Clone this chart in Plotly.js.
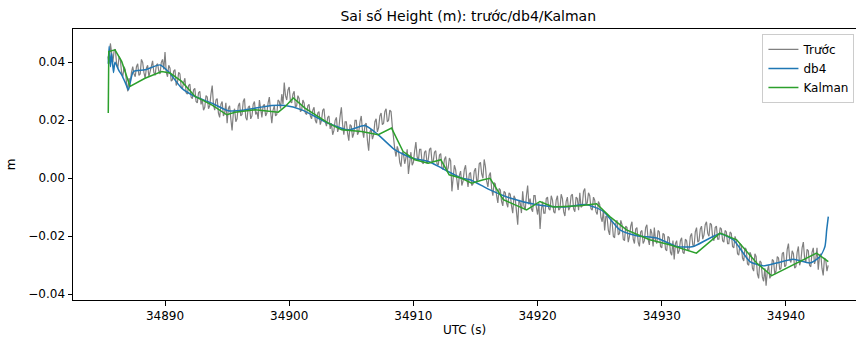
<!DOCTYPE html>
<html>
<head>
<meta charset="utf-8">
<script src="https://cdn.plot.ly/plotly-3.0.1.min.js"></script>
<style>html,body{margin:0;padding:0;background:#fff;}#chart{width:856px;height:339px;}</style>
</head>
<body>
<div id="chart"></div>
<script>
// ---- data ----
const grayStart = 34885.4;
const grayStep = 0.1;
const grayValues = [
  0.0420, 0.0395, 0.0465, 0.0425, 0.0400, 0.0440, 0.0445, 0.0395, 0.0380, 0.0420, 0.0410, 0.0365, 0.0350, 0.0385, 0.0375, 0.0330, 0.0300, 0.0345, 0.0330, 0.0365,
  0.0385, 0.0360, 0.0350, 0.0385, 0.0395, 0.0355, 0.0360, 0.0410, 0.0400, 0.0365, 0.0345, 0.0380, 0.0390, 0.0350, 0.0370, 0.0395, 0.0405, 0.0365, 0.0355, 0.0390,
  0.0395, 0.0370, 0.0360, 0.0400, 0.0410, 0.0375, 0.0435, 0.0365, 0.0350, 0.0390, 0.0380, 0.0335, 0.0340, 0.0370, 0.0375, 0.0320, 0.0330, 0.0365, 0.0360, 0.0315,
  0.0310, 0.0330, 0.0345, 0.0295, 0.0290, 0.0320, 0.0325, 0.0280, 0.0275, 0.0305, 0.0310, 0.0265, 0.0260, 0.0295, 0.0300, 0.0255, 0.0270, 0.0235, 0.0245, 0.0285,
  0.0280, 0.0240, 0.0250, 0.0290, 0.0320, 0.0255, 0.0235, 0.0270, 0.0275, 0.0225, 0.0210, 0.0255, 0.0265, 0.0215, 0.0225, 0.0260, 0.0190, 0.0240, 0.0250, 0.0205,
  0.0165, 0.0225, 0.0240, 0.0195, 0.0205, 0.0250, 0.0260, 0.0215, 0.0220, 0.0265, 0.0275, 0.0210, 0.0200, 0.0245, 0.0250, 0.0205, 0.0215, 0.0255, 0.0265, 0.0220,
  0.0230, 0.0205, 0.0270, 0.0240, 0.0210, 0.0250, 0.0255, 0.0215, 0.0225, 0.0260, 0.0280, 0.0230, 0.0190, 0.0235, 0.0250, 0.0215, 0.0220, 0.0270, 0.0265, 0.0240,
  0.0290, 0.0255, 0.0330, 0.0285, 0.0270, 0.0305, 0.0315, 0.0265, 0.0260, 0.0290, 0.0300, 0.0245, 0.0250, 0.0285, 0.0275, 0.0230, 0.0235, 0.0270, 0.0260, 0.0225,
  0.0220, 0.0250, 0.0255, 0.0215, 0.0205, 0.0235, 0.0245, 0.0200, 0.0190, 0.0225, 0.0230, 0.0185, 0.0200, 0.0235, 0.0240, 0.0195, 0.0180, 0.0210, 0.0215, 0.0170,
  0.0190, 0.0150, 0.0165, 0.0200, 0.0210, 0.0160, 0.0175, 0.0215, 0.0245, 0.0185, 0.0150, 0.0195, 0.0195, 0.0155, 0.0130, 0.0185, 0.0180, 0.0140, 0.0155, 0.0200,
  0.0200, 0.0150, 0.0160, 0.0195, 0.0215, 0.0165, 0.0140, 0.0185, 0.0190, 0.0130, 0.0095, 0.0160, 0.0170, 0.0135, 0.0150, 0.0195, 0.0205, 0.0160, 0.0175, 0.0215,
  0.0225, 0.0185, 0.0190, 0.0230, 0.0240, 0.0195, 0.0200, 0.0235, 0.0230, 0.0180, 0.0130, 0.0100, 0.0075, 0.0110, 0.0095, 0.0055, 0.0040, 0.0090, 0.0085, 0.0050,
  0.0070, 0.0100, 0.0015, 0.0060, 0.0090, 0.0045, 0.0055, 0.0095, 0.0125, 0.0075, 0.0060, 0.0100, 0.0100, 0.0055, 0.0050, 0.0090, 0.0095, 0.0050, 0.0065, 0.0100,
  0.0105, 0.0055, 0.0060, 0.0090, 0.0095, 0.0050, 0.0045, 0.0080, 0.0085, 0.0035, 0.0030, 0.0065, 0.0075, 0.0025, 0.0035, 0.0070, 0.0060, -0.0045, 0.0010, 0.0045,
  0.0030, -0.0010, -0.0040, 0.0010, 0.0025, -0.0025, -0.0010, 0.0030, 0.0045, 0.0000, -0.0030, 0.0015, 0.0020, -0.0025, -0.0020, 0.0025, 0.0035, -0.0010, -0.0005, 0.0050,
  0.0055, 0.0015, 0.0000, 0.0065, 0.0040, -0.0010, -0.0030, 0.0010, 0.0020, -0.0035, -0.0060, -0.0015, -0.0020, -0.0060, -0.0085, -0.0035, -0.0040, -0.0080, -0.0095, -0.0045,
  -0.0050, -0.0085, -0.0100, -0.0050, -0.0055, -0.0095, -0.0120, -0.0060, -0.0070, -0.0115, -0.0160, -0.0075, -0.0085, -0.0120, -0.0045, -0.0095, -0.0110, -0.0060, -0.0025, -0.0090,
  -0.0070, -0.0105, -0.0115, -0.0060, -0.0060, -0.0100, -0.0125, -0.0085, -0.0175, -0.0110, -0.0080, -0.0120, -0.0120, -0.0070, -0.0065, -0.0105, -0.0110, -0.0060, -0.0075, -0.0115,
  -0.0120, -0.0075, -0.0060, -0.0110, -0.0105, -0.0055, -0.0070, -0.0115, -0.0130, -0.0080, -0.0065, -0.0110, -0.0100, -0.0060, -0.0055, -0.0105, -0.0115, -0.0065, -0.0070, -0.0110,
  -0.0050, -0.0100, -0.0095, -0.0045, -0.0035, -0.0090, -0.0085, -0.0050, -0.0060, -0.0105, -0.0110, -0.0065, -0.0075, -0.0115, -0.0125, -0.0080, -0.0090, -0.0135, -0.0150, -0.0110,
  -0.0180, -0.0130, -0.0135, -0.0180, -0.0195, -0.0140, -0.0150, -0.0200, -0.0205, -0.0155, -0.0145, -0.0195, -0.0190, -0.0145, -0.0160, -0.0210, -0.0215, -0.0165, -0.0170, -0.0220,
  -0.0200, -0.0165, -0.0150, -0.0210, -0.0225, -0.0175, -0.0170, -0.0220, -0.0235, -0.0185, -0.0180, -0.0225, -0.0215, -0.0170, -0.0160, -0.0210, -0.0230, -0.0175, -0.0190, -0.0235,
  -0.0170, -0.0215, -0.0225, -0.0180, -0.0185, -0.0235, -0.0240, -0.0190, -0.0195, -0.0245, -0.0250, -0.0200, -0.0205, -0.0255, -0.0265, -0.0215, -0.0280, -0.0225, -0.0215, -0.0260,
  -0.0250, -0.0215, -0.0205, -0.0255, -0.0260, -0.0210, -0.0215, -0.0250, -0.0245, -0.0200, -0.0190, -0.0230, -0.0235, -0.0185, -0.0170, -0.0220, -0.0215, -0.0175, -0.0165, -0.0210,
  -0.0195, -0.0160, -0.0150, -0.0190, -0.0200, -0.0155, -0.0160, -0.0205, -0.0215, -0.0170, -0.0165, -0.0210, -0.0210, -0.0170, -0.0175, -0.0215, -0.0220, -0.0180, -0.0185, -0.0225,
  -0.0225, -0.0185, -0.0190, -0.0235, -0.0240, -0.0200, -0.0215, -0.0260, -0.0265, -0.0225, -0.0230, -0.0275, -0.0285, -0.0240, -0.0245, -0.0295, -0.0300, -0.0255, -0.0265, -0.0310,
  -0.0320, -0.0260, -0.0270, -0.0330, -0.0345, -0.0285, -0.0290, -0.0340, -0.0355, -0.0310, -0.0370, -0.0320, -0.0300, -0.0345, -0.0335, -0.0280, -0.0285, -0.0330, -0.0320, -0.0270,
  -0.0275, -0.0315, -0.0310, -0.0260, -0.0255, -0.0305, -0.0300, -0.0245, -0.0225, -0.0280, -0.0290, -0.0250, -0.0260, -0.0310, -0.0305, -0.0255, -0.0235, -0.0300, -0.0285, -0.0240,
  -0.0220, -0.0275, -0.0290, -0.0245, -0.0250, -0.0300, -0.0305, -0.0255, -0.0240, -0.0295, -0.0280, -0.0240, -0.0315, -0.0270, -0.0260, -0.0310, -0.0335, -0.0275, -0.0280, -0.0320,
  -0.0300
];

const db4Times = [
  34885.43, 34885.50, 34885.60, 34885.70, 34885.85, 34885.97, 34886.30, 34886.51, 34886.80, 34887.05,
  34887.45, 34888.39, 34889.60, 34890.27, 34891.34, 34892.42, 34893.76, 34895.10, 34896.44, 34898.59,
  34899.66, 34901.01, 34903.15, 34904.76, 34906.10, 34907.17, 34908.52, 34909.86, 34911.20, 34912.28,
  34913.89, 34914.56, 34915.63, 34916.17, 34917.78, 34919.93, 34922.07, 34923.95, 34925.29, 34926.63,
  34927.98, 34929.59, 34931.20, 34932.54, 34933.62, 34934.69, 34935.76, 34937.10, 34938.17, 34939.25,
  34940.59, 34941.93, 34942.74, 34943.14, 34943.28, 34943.41
];
const db4Values = [
  0.0395, 0.0455, 0.0385, 0.0430, 0.0365, 0.0400, 0.0370, 0.0357, 0.0330, 0.0305,
  0.0368, 0.0374, 0.0391, 0.0368, 0.0311, 0.0282, 0.0259, 0.0233, 0.0236, 0.0251,
  0.0251, 0.0236, 0.0190, 0.0167, 0.0182, 0.0150, 0.0098, 0.0070, 0.0058, 0.0035,
  0.0000, -0.0005, -0.0028, -0.0040, -0.0068, -0.0091, -0.0099, -0.0091, -0.0114, -0.0178,
  -0.0198, -0.0206, -0.0235, -0.0235, -0.0212, -0.0191, -0.0212, -0.0287, -0.0302, -0.0292,
  -0.0279, -0.0292, -0.0270, -0.0235, -0.0178, -0.0132
];

const kalmanTimes = [
  34885.43, 34885.47, 34885.97, 34886.51, 34887.18, 34888.39, 34889.73, 34890.40, 34891.34, 34892.42,
  34893.76, 34894.97, 34895.64, 34897.25, 34899.12, 34899.66, 34900.33, 34901.27, 34903.15, 34904.22,
  34905.82, 34907.17, 34908.24, 34909.17, 34910.11, 34911.20, 34912.21, 34912.88, 34913.89, 34914.69,
  34915.63, 34916.17, 34917.24, 34919.12, 34920.19, 34921.26, 34923.41, 34924.75, 34925.82, 34927.16,
  34929.03, 34930.64, 34932.79, 34934.69, 34936.03, 34937.64, 34938.85, 34940.32, 34941.39, 34942.46,
  34943.41
];
const kalmanValues = [
  0.0225, 0.0437, 0.0443, 0.0403, 0.0317, 0.0345, 0.0368, 0.0363, 0.0334, 0.0282,
  0.0253, 0.0219, 0.0228, 0.0236, 0.0228, 0.0247, 0.0277, 0.0242, 0.0190, 0.0167,
  0.0161, 0.0150, 0.0173, 0.0092, 0.0064, 0.0052, 0.0064, 0.0012, 0.0000, -0.0017,
  -0.0005, 0.0000, -0.0074, -0.0109, -0.0080, -0.0099, -0.0095, -0.0088, -0.0132, -0.0178,
  -0.0212, -0.0229, -0.0258, -0.0189, -0.0212, -0.0292, -0.0336, -0.0304, -0.0283, -0.0258,
  -0.0287
];

const seriesNames = ["Trước", "db4", "Kalman"];
const yTickVals = [-0.04, -0.02, 0.00, 0.02, 0.04];
const xTickVals = [34890, 34900, 34910, 34920, 34930, 34940];

// ---- build traces ----
const grayTimes = grayValues.map((_, i) => +(grayStart + i * grayStep).toFixed(2));

const FONT = "DejaVu Sans, Verdana, sans-serif";
const traces = [
  {x: grayTimes, y: grayValues, name: seriesNames[0], type: "scatter", mode: "lines",
   line: {color: "#808080", width: 1.2}},
  {x: db4Times, y: db4Values, name: seriesNames[1], type: "scatter", mode: "lines",
   line: {color: "#1f77b4", width: 1.5, shape: "spline", smoothing: 0.6}},
  {x: kalmanTimes, y: kalmanValues, name: seriesNames[2], type: "scatter", mode: "lines",
   line: {color: "#2ca02c", width: 1.5}}
];

const layout = {
  width: 856, height: 339,
  margin: {l: 73, r: 0, t: 29, b: 39, pad: 0},
  paper_bgcolor: "#ffffff", plot_bgcolor: "#ffffff",
  font: {family: FONT, size: 12, color: "#000"},
  title: {text: "Sai số Height (m): trước/db4/Kalman", font: {family: FONT, size: 14, color: "#000"},
          xref: "container", x: 0.547, xanchor: "center", yref: "container", y: 0.953, yanchor: "middle"},
  showlegend: true,
  legend: {x: 0.998, xanchor: "right", y: 0.982, yanchor: "top",
           bgcolor: "rgba(255,255,255,0.8)", bordercolor: "#cccccc", borderwidth: 1,
           font: {family: FONT, size: 12, color: "#000"}, tracegroupgap: 0},
  xaxis: {range: [34882.59, 34945.64], tickvals: xTickVals, tickformat: "d",
          showgrid: false, zeroline: false, showline: true, linecolor: "#000", linewidth: 1,
          mirror: true, ticks: "outside", ticklen: 4.5, tickwidth: 1, tickcolor: "#000",
          tickfont: {family: FONT, size: 12, color: "#000"},
          title: {text: "UTC (s)", font: {family: FONT, size: 12, color: "#000"}, standoff: 3}},
  yaxis: {range: [-0.04197, 0.05148], tickvals: yTickVals, tickformat: ".2f",
          showgrid: false, zeroline: false, showline: true, linecolor: "#000", linewidth: 1,
          mirror: false, ticks: "outside", ticklen: 4.5, tickwidth: 1, tickcolor: "#000",
          tickfont: {family: FONT, size: 12, color: "#000"},
          title: {text: "m", font: {family: FONT, size: 12, color: "#000"}, standoff: 10}}
};

Plotly.newPlot("chart", traces, layout, {displayModeBar: false, staticPlot: true});
</script>
</body>
</html>
